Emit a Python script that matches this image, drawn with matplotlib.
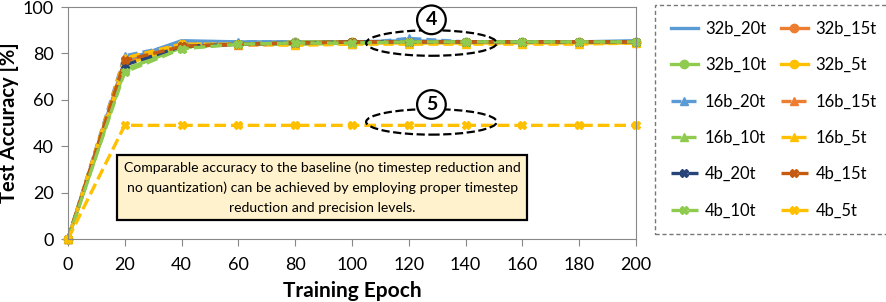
import matplotlib
matplotlib.use("Agg")
import matplotlib.pyplot as plt
from matplotlib.patches import Ellipse

plt.rcParams['font.family'] = ['Lato', 'DejaVu Sans']

epochs = [0, 20, 40, 60, 80, 100, 120, 140, 160, 180, 200]

acc_32b_20t = [0, 77.0, 85.5, 85.0, 85.0, 85.0, 85.5, 85.0, 85.0, 85.0, 85.5]
acc_32b_15t = [0, 76.0, 83.0, 84.0, 85.0, 85.0, 85.0, 85.0, 85.0, 85.0, 85.0]
acc_32b_10t = [0, 73.0, 83.0, 84.0, 85.0, 85.0, 85.0, 85.0, 85.0, 85.0, 85.0]
acc_32b_5t = [0, 75.0, 84.0, 84.0, 84.0, 84.5, 84.5, 84.5, 84.5, 84.5, 84.5]
acc_16b_20t = [0, 79.0, 84.0, 85.0, 85.0, 84.0, 86.5, 85.0, 85.0, 85.0, 85.0]
acc_16b_15t = [0, 78.0, 84.0, 83.5, 84.0, 84.5, 85.0, 85.0, 85.0, 85.0, 85.0]
acc_16b_10t = [0, 73.0, 82.5, 84.0, 84.0, 84.5, 85.0, 85.0, 85.0, 85.0, 85.0]
acc_16b_5t = [0, 78.0, 84.0, 84.0, 83.5, 84.0, 84.0, 84.0, 84.0, 84.0, 84.5]
acc_4b_20t = [0, 75.0, 83.0, 84.0, 84.5, 85.0, 85.0, 85.0, 85.0, 85.0, 85.0]
acc_4b_15t = [0, 77.0, 83.0, 84.0, 84.5, 85.0, 85.0, 85.0, 85.0, 85.0, 85.0]
acc_4b_10t = [0, 72.0, 82.0, 84.0, 84.5, 84.5, 85.0, 85.0, 85.0, 85.0, 85.0]
acc_4b_5t = [0, 49.0, 49.0, 49.0, 49.0, 49.0, 49.0, 49.0, 49.0, 49.0, 49.0]

BLUE, ORANGE, GREEN, GOLD = '#5B9BD5', '#ED7D31', '#8FCB4F', '#FFC000'
DKBLUE, DKORANGE = '#264478', '#C55A11'

# (label, data, color, linestyle, marker)
series = [
    ('32b_20t', acc_32b_20t, BLUE, '-', None),
    ('32b_15t', acc_32b_15t, ORANGE, '-', 'o'),
    ('32b_10t', acc_32b_10t, GREEN, '-', 'o'),
    ('32b_5t', acc_32b_5t, GOLD, '-', 'o'),
    ('16b_20t', acc_16b_20t, BLUE, (0, (3, 1.5)), '^'),
    ('16b_15t', acc_16b_15t, ORANGE, (0, (3, 1.5)), '^'),
    ('16b_10t', acc_16b_10t, GREEN, (0, (3, 1.5)), '^'),
    ('16b_5t', acc_16b_5t, GOLD, (0, (3, 1.5)), '^'),
    ('4b_20t', acc_4b_20t, DKBLUE, (0, (3.5, 1.5)), 'X'),
    ('4b_15t', acc_4b_15t, DKORANGE, (0, (3.5, 1.5)), 'X'),
    ('4b_10t', acc_4b_10t, GREEN, (0, (3.5, 1.5)), 'X'),
    ('4b_5t', acc_4b_5t, GOLD, (0, (3.5, 1.5)), 'X'),
]

fig = plt.figure(figsize=(8.86, 3.02), dpi=100)
ax = fig.add_axes([0.0767, 0.2086, 0.641, 0.768])

handles = []
for label, vals, col, ls, mk in series:
    h, = ax.plot(epochs, vals, color=col, linestyle=ls, marker=mk, lw=2.4,
                 markersize=6, label=label, clip_on=False)
    handles.append(h)

ax.set_xlim(0, 200)
ax.set_ylim(0, 100)
ax.set_xticks(range(0, 201, 20))
ax.set_yticks(range(0, 101, 20))
ax.tick_params(labelsize=13, length=5, color='#888888', direction='out')
ax.tick_params(axis='x', pad=8)
ax.tick_params(axis='y', pad=5)
for s in ax.spines.values():
    s.set_color('#888888')
ax.set_xlabel('Training Epoch', fontsize=15, fontweight='bold', labelpad=6)
ax.set_ylabel('Test Accuracy [%]', fontsize=14.5, fontweight='bold', labelpad=3)

# annotations
ax.add_patch(Ellipse((128, 84.5), 46, 11, fill=False, ls='--', lw=1.6, ec='black', zorder=5))
ax.add_patch(Ellipse((128, 50.5), 46, 11, fill=False, ls='--', lw=1.6, ec='black', zorder=5))
ax.text(128, 94.5, '4', fontsize=14, fontweight='bold', ha='center', va='center', zorder=6,
        bbox=dict(boxstyle='circle,pad=0.3', fc='white', ec='black', lw=1.6))
ax.text(128, 58, '5', fontsize=14, fontweight='bold', ha='center', va='center', zorder=6,
        bbox=dict(boxstyle='circle,pad=0.3', fc='white', ec='black', lw=1.6))

ax.text(89.5, 22.3, 'Comparable accuracy to the baseline (no timestep reduction and\n'
        'no quantization) can be achieved by employing proper timestep\n'
        'reduction and precision levels.', fontsize=10.1, ha='center', va='center',
        linespacing=1.75, zorder=7,
        bbox=dict(boxstyle='square,pad=0.45', fc='#FFF2CC', ec='black', lw=1.6))

# legend is row-wise in the reference: reorder for matplotlib's column fill
order = list(range(0, 12, 2)) + list(range(1, 12, 2))
leg = fig.legend(handles=[handles[i] for i in order], ncol=2, loc='upper left',
                 bbox_to_anchor=(655 / 886, 1 - 5 / 302),
                 fontsize=12, frameon=True, fancybox=False, handlelength=1.6,
                 handletextpad=0.45, labelspacing=1.22, columnspacing=0.9,
                 borderpad=0.95, borderaxespad=0)
leg.get_frame().set_edgecolor('#555555')
leg.get_frame().set_linestyle((0, (3, 2)))
leg.get_frame().set_linewidth(1.0)

fig.savefig('out.png', dpi=100)
